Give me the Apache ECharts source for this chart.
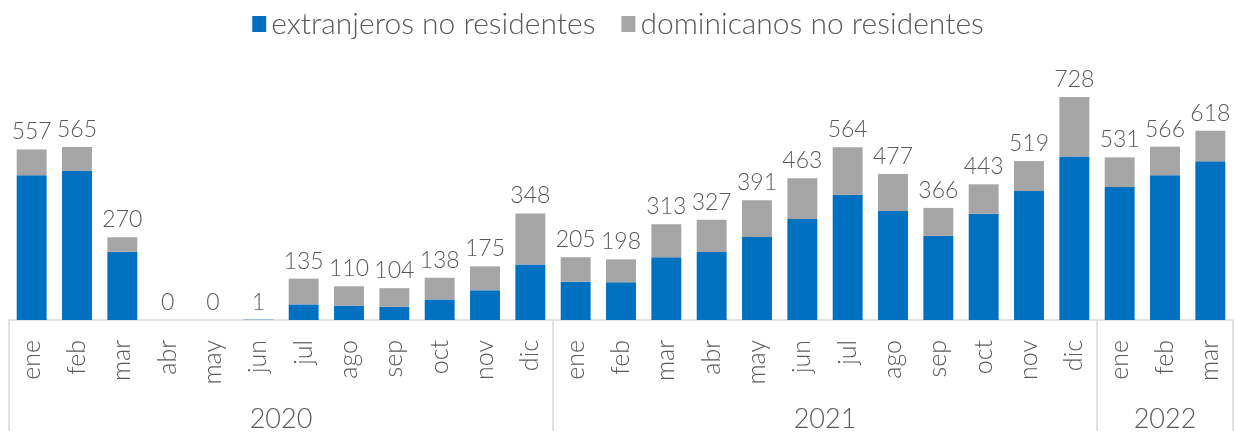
<!DOCTYPE html>
<html>
<head>
<meta charset="utf-8">
<script src="https://cdn.jsdelivr.net/npm/echarts@6/dist/echarts.min.js"></script>
<style>
  html, body { margin: 0; padding: 0; background: #fff; }
  #chart { width: 1236px; height: 433px; }
</style>
</head>
<body>
<div id="chart"></div>
<script>
// meses y años
var months = ['ene','feb','mar','abr','may','jun','jul','ago','sep','oct','nov','dic',
              'ene','feb','mar','abr','may','jun','jul','ago','sep','oct','nov','dic',
              'ene','feb','mar'];
var years = ['2020', '2021', '2022'];
var yearMonths = [12, 12, 3];

// totales (etiquetas)
var totals = [557,565,270,0,0,1,135,110,104,138,175,348,
              205,198,313,327,391,463,564,477,366,443,519,728,
              531,566,618];
// extranjeros no residentes
var extranjeros = [473,487,223,0,0,1,51,47,43,67,97,181,
                   125,123,205,222,271,330,409,356,275,347,421,534,
                   434,473,518];
// dominicanos no residentes
var dominicanos = [84,78,47,0,0,0,84,63,61,71,78,167,
                   80,75,108,105,120,133,155,121,91,96,98,194,
                   97,93,100];

// eje auxiliar de años: medio mes por posición
var yearSlots = [];
for (var i = 0; i <= months.length * 2; i++) yearSlots.push('');
var acc = 0;
var bounds = [0];
years.forEach(function (y, k) {
    yearSlots[acc * 2 + yearMonths[k]] = y;
    acc += yearMonths[k];
    bounds.push(acc * 2);
});

var textColor = '#595959';
var font = 'Lato, "Open Sans", sans-serif';

var myEcharts = echarts.init(document.getElementById('chart'));
myEcharts.setOption({
    animation: false,
    textStyle: { fontFamily: font, color: textColor, fontWeight: 300 },
    legend: {
        top: 4,
        left: 'center',
        itemWidth: 14,
        itemHeight: 16,
        itemGap: 26,
        icon: 'rect',
        textStyle: { fontSize: 30, color: textColor, fontFamily: font, fontWeight: 300, padding: [0, 0, 0, 0] },
        data: ['extranjeros no residentes', 'dominicanos no residentes']
    },
    //布局
    grid: {
        left: 9,
        right: 3,
        top: 75,
        bottom: 111
    },
    xAxis: [
        {
            type: 'category',
            data: months,
            axisLine: { show: false },
            axisTick: { show: false },
            axisLabel: {
                rotate: 90,
                interval: 0,
                margin: 20,
                fontSize: 25,
                fontWeight: 300,
                color: textColor,
                fontFamily: font
            }
        },
        {
            type: 'category',
            data: yearSlots,
            boundaryGap: false,
            position: 'bottom',
            axisLine: { show: true, lineStyle: { color: '#d9d9d9', width: 1.5 } },
            axisTick: {
                show: true,
                length: 111,
                lineStyle: { color: '#d9d9d9', width: 1.5 },
                interval: function (index) { return bounds.indexOf(index) >= 0; }
            },
            axisLabel: {
                interval: function (index, value) { return value !== ''; },
                margin: 86,
                fontSize: 27,
                fontWeight: 300,
                color: textColor,
                fontFamily: font
            }
        }
    ],
    yAxis: {
        type: 'value',
        min: 0,
        max: 800,
        show: false,
        splitLine: { show: false }
    },
    series: [
        {
            name: 'extranjeros no residentes',
            type: 'bar',
            stack: 'total',
            barWidth: '66%',
            data: extranjeros,
            itemStyle: { color: '#0070C0' }
        },
        {
            name: 'dominicanos no residentes',
            type: 'bar',
            stack: 'total',
            barWidth: '66%',
            data: dominicanos,
            itemStyle: { color: '#A5A5A5' },
            label: {
                show: true,
                position: 'top',
                distance: 6,
                fontSize: 23,
                fontWeight: 300,
                color: textColor,
                fontFamily: font,
                formatter: function (p) { return totals[p.dataIndex]; }
            }
        }
    ]
});
</script>
</body>
</html>
